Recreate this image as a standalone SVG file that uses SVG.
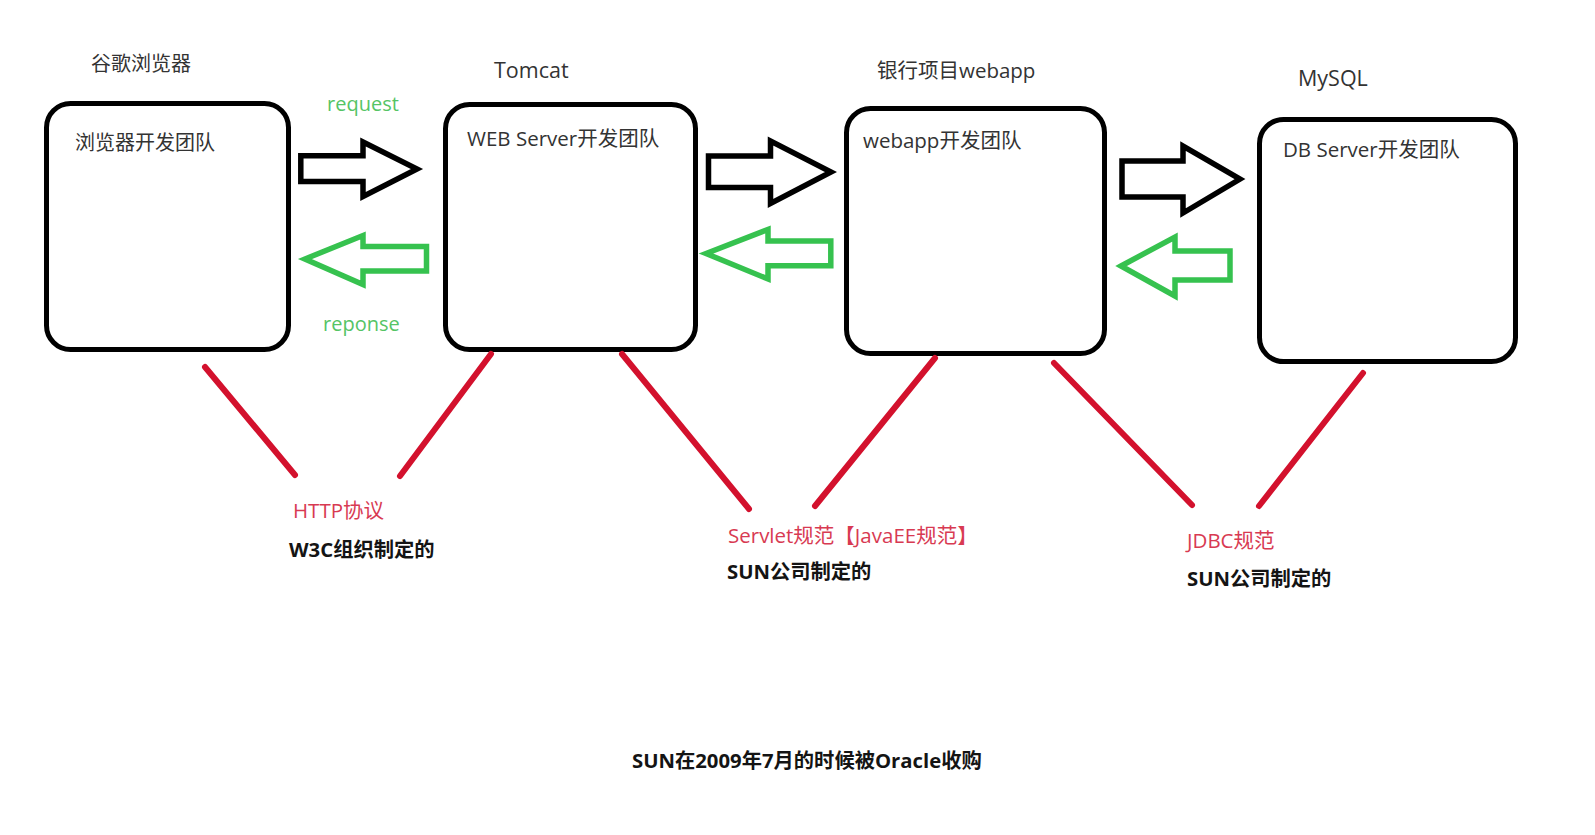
<svg xmlns="http://www.w3.org/2000/svg" width="1595" height="835" viewBox="0 0 1595 835">
<style>
.bg{fill:#ffffff}
.box{fill:#ffffff;stroke:#000000;stroke-width:5}
.t{font-family:"Open Sans","Noto Sans CJK SC",sans-serif;font-size:20.5px;fill:#333333}
.tc{font-size:20px}
.tl{font-size:21.5px}
.req{font-family:"Open Sans","Noto Sans CJK SC",sans-serif;font-size:20px;fill:#55c465}
.red{font-family:"Open Sans","Noto Sans CJK SC",sans-serif;font-size:20.5px;fill:#d83a52}
.b{font-family:"Open Sans","Noto Sans CJK SC",sans-serif;font-size:20.3px;font-weight:bold;fill:#141414}
.fw{fill:#ffffff;stroke:#000000;stroke-width:5.5;stroke-linejoin:miter}
.bk{fill:#ffffff;stroke:#36c24f;stroke-width:5.5;stroke-linejoin:miter}
.rl{stroke:#d3112d;stroke-width:6;stroke-linecap:round;fill:none}
</style>
<rect class="bg" x="0" y="0" width="1595" height="835"/>

<g id="browser">
  <text class="t tc" x="91" y="71">谷歌浏览器</text>
  <rect class="box" x="46.5" y="103.5" width="242" height="246" rx="24" ry="24"/>
  <text class="t tc" x="75" y="150">浏览器开发团队</text>
</g>

<g id="tomcat">
  <text class="t tl" x="494" y="78">Tomcat</text>
  <rect class="box" x="445.5" y="104.5" width="250" height="245" rx="24" ry="24"/>
  <text class="t" x="467" y="146">WEB Server开发团队</text>
</g>

<g id="webapp">
  <text class="t" x="877" y="78">银行项目webapp</text>
  <rect class="box" x="846.5" y="108.5" width="258" height="245" rx="24" ry="24"/>
  <text class="t" x="863" y="148">webapp开发团队</text>
</g>

<g id="mysql">
  <text class="t tl" x="1298" y="86">MySQL</text>
  <rect class="box" x="1259.5" y="119.5" width="256" height="242" rx="24" ry="24"/>
  <text class="t" x="1283" y="157">DB Server开发团队</text>
</g>

<g id="connectors">
  <path class="fw" d="M300.8,155.8 H363 V142 L417,169 L363,196.5 V181.5 H300.8 Z"/>
  <path class="bk" d="M305,259 L363,235.5 V246.5 H426.5 V271 H363 V284.5 Z"/>
  <path class="fw" d="M708.5,156 H770.5 V141 L831,172 L770.5,203.5 V187.5 H708.5 Z"/>
  <path class="bk" d="M706,253.5 L768,229.5 V241 H830.8 V265.8 H768 V279 Z"/>
  <path class="fw" d="M1122,161 H1183 V146 L1240,179 L1183,213 V197 H1122 Z"/>
  <path class="bk" d="M1121,266 L1175,237 V251 H1230 V280 H1175 V296 Z"/>
  <line class="rl" x1="205" y1="367" x2="295" y2="475"/>
  <line class="rl" x1="491" y1="354" x2="400" y2="476"/>
  <line class="rl" x1="622" y1="354" x2="749" y2="509"/>
  <line class="rl" x1="935" y1="358" x2="815" y2="506"/>
  <line class="rl" x1="1054" y1="363" x2="1192" y2="505"/>
  <line class="rl" x1="1363" y1="373" x2="1259" y2="506"/>
</g>

<g id="flow-labels">
  <text class="req" x="327" y="111">request</text>
  <text class="req" x="323" y="331">reponse</text>
</g>

<g id="http-label">
  <text class="red" x="293" y="518">HTTP协议</text>
  <text class="b" x="289" y="557">W3C组织制定的</text>
</g>

<g id="servlet-label">
  <text class="red" x="728" y="543">Servlet规范【JavaEE规范】</text>
  <text class="b" x="727" y="579">SUN公司制定的</text>
</g>

<g id="jdbc-label">
  <text class="red" x="1187" y="548">JDBC规范</text>
  <text class="b" x="1187" y="586">SUN公司制定的</text>
</g>

<g id="note">
  <text class="b" x="632" y="768">SUN在2009年7月的时候被Oracle收购</text>
</g>
</svg>
